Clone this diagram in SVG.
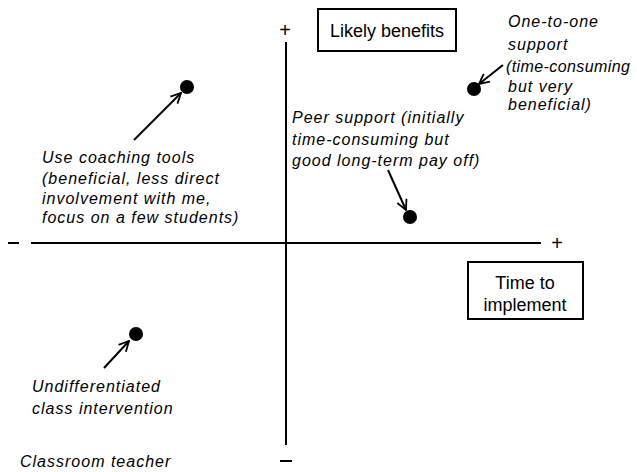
<svg xmlns="http://www.w3.org/2000/svg" width="637" height="472" viewBox="0 0 637 472">
<defs>
<style>
.t{font-family:"Liberation Sans",Arial,sans-serif;font-size:16px;font-style:italic;letter-spacing:1px;fill:#000}
.n{letter-spacing:0.4px}
.b{font-family:"Liberation Sans",Arial,sans-serif;font-size:18px;fill:#000;text-anchor:middle}
.s{font-family:"Liberation Sans",Arial,sans-serif;font-size:20px;fill:#000;text-anchor:middle}
.ax{stroke:#000;stroke-width:2;fill:none}
.ar{stroke:#000;stroke-width:2;fill:none;marker-end:url(#ah)}
.box{fill:#fff;stroke:#000;stroke-width:2}
</style>
<marker id="ah" viewBox="0 0 12 12" refX="11" refY="6" markerWidth="12" markerHeight="12" markerUnits="userSpaceOnUse" orient="auto">
<path d="M1,1 L11,6 L1,11" fill="none" stroke="#000" stroke-width="1.8"/>
</marker>
</defs>
<rect width="637" height="472" fill="#fff"/>
<g id="axes">
<line class="ax" x1="286" y1="42" x2="286" y2="445"/>
<line class="ax" x1="31" y1="243" x2="541" y2="243"/>
<text class="s" x="285" y="37">+</text>
<text class="s" x="557" y="250">+</text>
<line class="ax" x1="8" y1="243" x2="19" y2="243"/>
<line class="ax" x1="280" y1="461" x2="292" y2="461"/>
</g>
<g id="likely-benefits">
<rect class="box" x="318" y="9" width="138" height="42"/>
<text class="b" x="387" y="37">Likely benefits</text>
</g>
<g id="time-to-implement">
<rect class="box" x="468" y="262" width="115" height="57"/>
<text class="b" x="525" y="289">Time to</text>
<text class="b" x="525" y="311">implement</text>
</g>
<g id="coaching">
<circle cx="187" cy="87" r="7"/>
<text class="t" x="42" y="163">Use coaching tools</text>
<text class="t" x="42" y="184">(beneficial, less direct</text>
<text class="t" x="42" y="204">involvement with me,</text>
<text class="t" x="42" y="223">focus on a few students)</text>
</g>
<g id="one-to-one">
<circle cx="474" cy="89" r="7"/>
<text class="t" x="508" y="27">One-to-one</text>
<text class="t" x="508" y="50">support</text>
<text class="t n" x="506" y="72">(time-consuming</text>
<text class="t" x="508" y="92">but very</text>
<text class="t" x="508" y="110">beneficial)</text>
</g>
<g id="peer">
<circle cx="410" cy="217" r="7"/>
<text class="t" x="292" y="123">Peer support (initially</text>
<text class="t" x="292" y="145">time-consuming but</text>
<text class="t" x="292" y="166">good long-term pay off)</text>
</g>
<g id="undifferentiated">
<circle cx="136" cy="334" r="7"/>
<text class="t" x="32" y="392">Undifferentiated</text>
<text class="t" x="32" y="414">class intervention</text>
</g>
<g id="classroom-teacher">
<text class="t" x="20" y="467">Classroom teacher</text>
</g>
<g id="connectors">
<line class="ar" x1="134" y1="140" x2="181" y2="93"/>
<line class="ar" x1="503" y1="65" x2="479" y2="84"/>
<line class="ar" x1="388" y1="170" x2="406" y2="210"/>
<line class="ar" x1="104" y1="368" x2="129" y2="341"/>
</g>
</svg>
